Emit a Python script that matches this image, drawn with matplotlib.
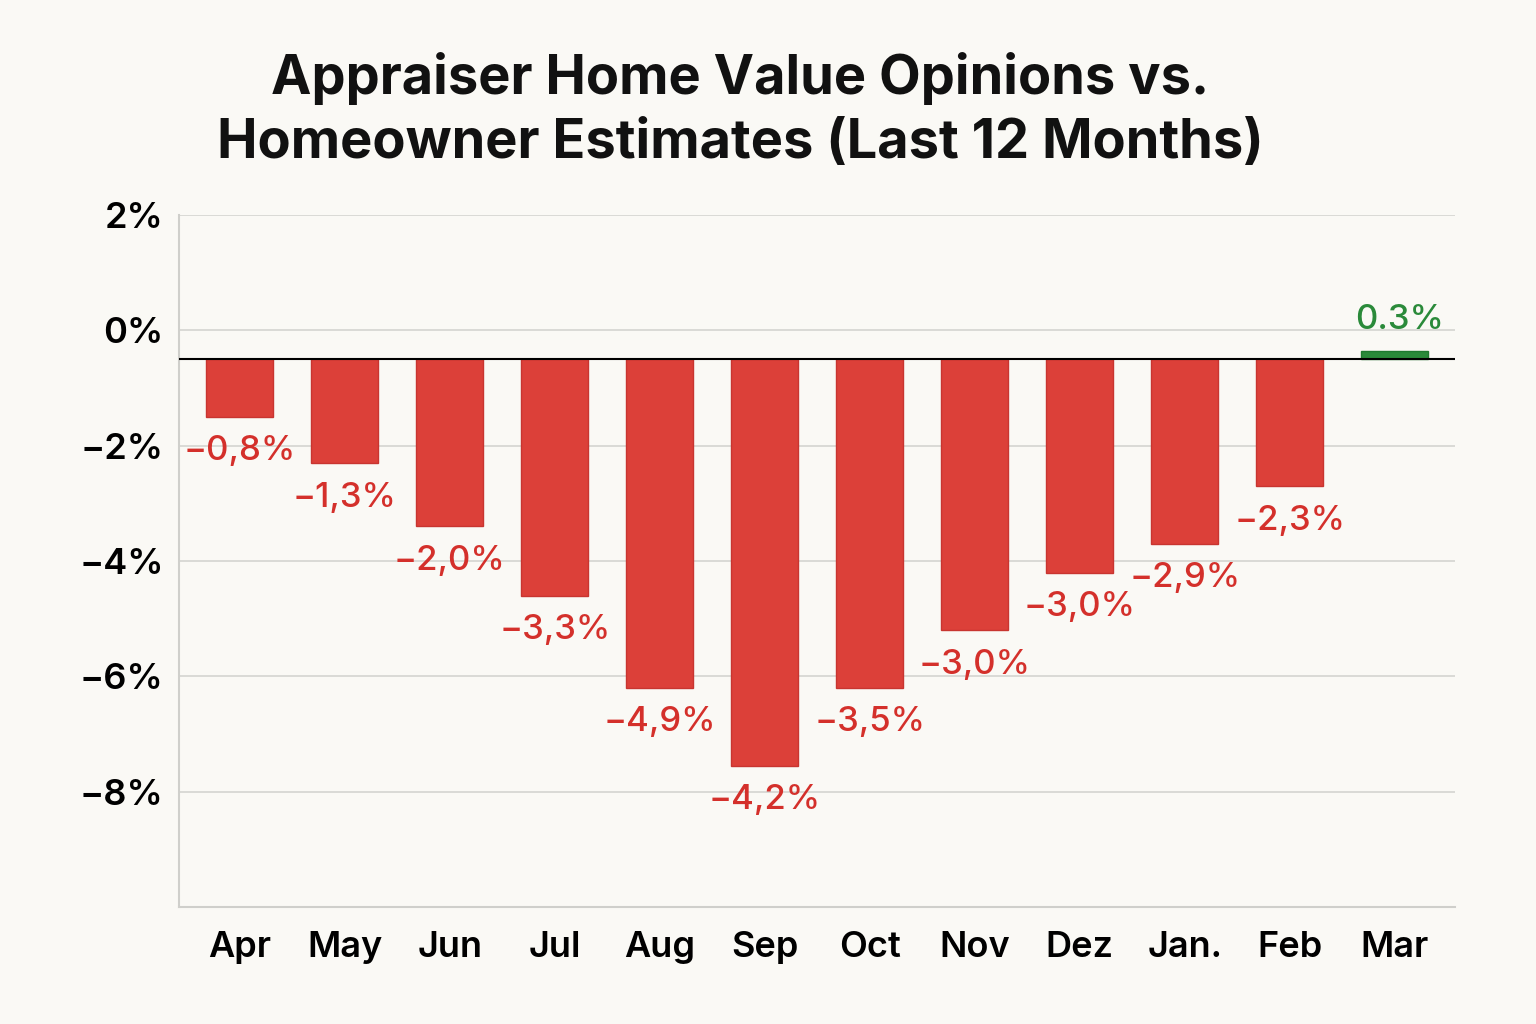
import matplotlib.pyplot as plt
import numpy as np

# Months and bar extents (bars hang from a -0.5% baseline)
months = ["Apr", "May", "Jun", "Jul", "Aug", "Sep", "Oct", "Nov", "Dez", "Jan.", "Feb", "Mar"]
bar_ends = [-1.5, -2.3, -3.4, -4.6, -6.2, -7.55, -6.2, -5.2, -4.2, -3.7, -2.7, -0.35]
baseline = -0.5
# Labels as printed on the chart
labels = ["−0,8%", "−1,3%", "−2,0%", "−3,3%", "−4,9%", "−4,2%", "−3,5%",
          "−3,0%", "−3,0%", "−2,9%", "−2,3%", "0.3%"]
yticks = [2, 0, -2, -4, -6, -8]

bg = "#faf9f5"
red = "#dc4039"
red_text = "#d4302b"
green = "#2a8a3a"

plt.rcParams["font.family"] = ["Inter", "DejaVu Sans"]

fig = plt.figure(figsize=(15.36, 10.24), dpi=100, facecolor=bg)
ax = fig.add_axes([0.1165, 0.1143, 0.8305, 0.6757], facecolor=bg)

x = np.arange(len(months))
heights = np.array(bar_ends) - baseline
colors = [green if h > 0 else red for h in heights]
edges = ["#1f7a30" if h > 0 else "#c83530" for h in heights]
ax.bar(x, heights, bottom=baseline, width=0.64, color=colors,
       edgecolor=edges, linewidth=1, zorder=3)

# value labels
for xi, end, lab, h in zip(x, bar_ends, labels, heights):
    if h > 0:
        ax.text(xi + 0.05, end + 0.25, lab, ha="center", va="bottom",
                fontsize=25, fontweight=500, color=green, zorder=4)
    else:
        ax.text(xi, end - 0.6, lab, ha="center", va="center",
                fontsize=25, fontweight=500, color=red_text, zorder=4)

ax.axhline(baseline, color="black", linewidth=1.5, zorder=4)

ax.set_xlim(-0.58, 11.57)
ax.set_ylim(-10, 2)
ax.set_yticks(yticks)
ax.set_yticklabels([("−" if v < 0 else "") + f"{abs(v)}%" for v in yticks])
ax.set_xticks(x)
ax.set_xticklabels(months)
ax.grid(axis="y", color="#d4d4d0", linewidth=1.2, zorder=0)
ax.tick_params(axis="y", length=0, pad=11, labelsize=26)
ax.tick_params(axis="x", length=0, pad=17, labelsize=26)
for lab in ax.get_xticklabels() + ax.get_yticklabels():
    lab.set_fontweight(600)
for s in ["top", "right"]:
    ax.spines[s].set_visible(False)
for s in ["left", "bottom"]:
    ax.spines[s].set_color("#cfcfcb")
    ax.spines[s].set_linewidth(1.5)

fig.text(0.482, 0.835, "Appraiser Home Value Opinions vs.\nHomeowner Estimates (Last 12 Months)",
         ha="center", va="bottom", fontsize=39, fontweight="bold",
         linespacing=1.33, color="#111111")

fig.savefig("out.png", dpi=100, facecolor=bg)
